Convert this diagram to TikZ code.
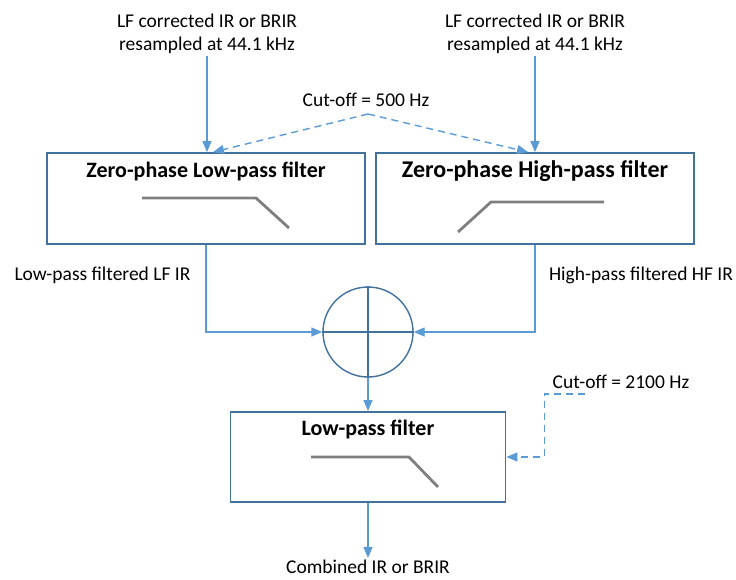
\documentclass[tikz,border=0pt]{standalone}
\usepackage{fontspec}
\setmainfont{Carlito}
\usetikzlibrary{calc,positioning,arrows.meta}
\definecolor{myblue}{RGB}{91, 155, 213}
\definecolor{mydarkblue}{RGB}{65, 113, 156}
\definecolor{mygray}{RGB}{127, 127, 127}
\tikzset{
  flow/.style = {myblue, line width=1.4pt, -{Triangle[length=11pt, width=9pt]}},
  ctrl/.style = {flow, dash pattern=on 7pt off 5pt},
  filterbox/.style = {draw=mydarkblue, line width=1.8pt, inner sep=0pt},
  label/.style = {align=center, font=\fontsize{19.5}{23}\selectfont, inner sep=2pt},
  boxtitle/.style = {font=\bfseries\fontsize{22}{24}\selectfont, inner sep=0pt},
  response/.style = {mygray, line width=2.8pt}
}

\begin{document}
\begin{tikzpicture}[x=1pt, y=-1pt]
\useasboundingbox (0,0) rectangle (736,579);

% inputs
\node[label] (inL) at (207,33.5) {LF corrected IR or BRIR\\resampled at 44.1 kHz};
\node[label] (inR) at (535,33.5) {LF corrected IR or BRIR\\resampled at 44.1 kHz};
\node[label] (cut1) at (366,100) {Cut-off = 500 Hz};
\coordinate (apex) at (368,114);

% zero-phase filters
\node[filterbox, minimum width=318pt, minimum height=91pt] (lpf) at (206,198.5) {};
\node[filterbox, minimum width=318pt, minimum height=91pt] (hpf) at (535,198.5) {};
\node[boxtitle] (lpft) at ($(lpf.north)+(0,19)$) {Zero-phase Low-pass filter};
\node[boxtitle, font=\bfseries\fontsize{24}{26}\selectfont] (hpft) at ($(hpf.north)+(0,19)$) {Zero-phase High-pass filter};
\draw[response] (142,198) -- (256,198) -- (289,228);
\draw[response] (458,232) -- (491,202) -- (604,202);

\draw[flow] (inL.south) -- (inL.south |- lpf.north);
\draw[flow] (inR.south) -- (inR.south |- hpf.north);
\draw[ctrl] (apex) -- ($(lpf.north)+(7,0)$);
\draw[ctrl] (apex) -- ($(hpf.north)+(-7,0)$);

% summation
\node[label] (lpout) at (102.5,275) {Low-pass filtered LF IR};
\node[label] (hpout) at (641,275) {High-pass filtered HF IR};
\node[circle, draw=mydarkblue, line width=1.4pt, minimum size=90pt, inner sep=0pt] (sum) at (368,332) {};
\draw[mydarkblue, line width=1.4pt] (sum.north) -- (sum.south) (sum.west) -- (sum.east);
\draw[flow] (lpf.south) |- (sum.west);
\draw[flow] (hpf.south) |- (sum.east);

% final low-pass
\node[filterbox, minimum width=275pt, minimum height=90pt] (lpf2) at (368,457) {};
\node[boxtitle] (lpf2t) at ($(lpf2.north)+(0,18)$) {Low-pass filter};
\draw[response] (311,457) -- (409,457) -- (438,487);
\node[label] (cut2) at (621,382) {Cut-off = 2100 Hz};
\coordinate (c2) at (585,394);
\draw[flow] (sum.south) -- (lpf2.north);
\draw[ctrl] (c2) -| ($(lpf2.east)+(38,0)$) -- (lpf2.east);

\node[label] (out) at (368,567) {Combined IR or BRIR};
\draw[flow] (lpf2.south) -- (out.north);

\end{tikzpicture}
\end{document}
